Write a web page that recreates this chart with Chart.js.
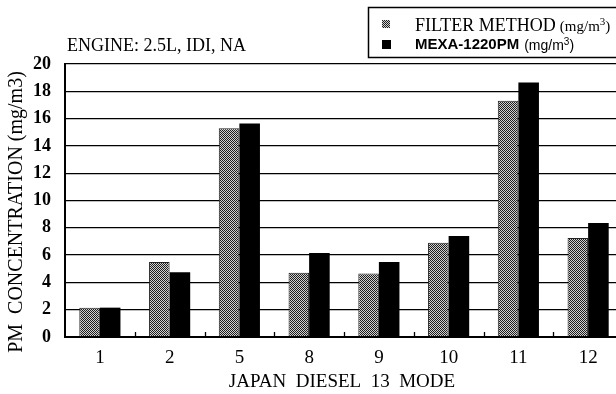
<!DOCTYPE html>
<html>
<head>
<meta charset="utf-8">
<script src="https://cdn.jsdelivr.net/npm/chart.js@4/dist/chart.umd.min.js"></script>
<style>
  html, body { margin: 0; padding: 0; background: #fff; width: 616px; height: 394px; overflow: hidden; }
  #wrap { position: relative; width: 640px; height: 394px; }
</style>
</head>
<body>
<div id="wrap"><canvas id="c" width="640" height="394"></canvas></div>
<script>
// Japan diesel 13-mode test points and measured PM concentration (mg/m3)
const modes = ['1', '2', '5', '8', '9', '10', '11', '12'];
const filterMethod = [2.15, 5.5, 15.3, 4.7, 4.65, 6.9, 17.3, 7.25];
const mexa1220pm = [2.15, 4.75, 15.65, 6.15, 5.5, 7.4, 18.65, 8.35];
const yTicks = [0, 2, 4, 6, 8, 10, 12, 14, 16, 18, 20];

const seriesNames = ['FILTER METHOD', 'MEXA-1220PM'];
const unitMain = '(mg/m';
const unitSup = '3';
const unitClose = ')';
const engineNote = 'ENGINE: 2.5L, IDI, NA';
const xTitle = 'JAPAN  DIESEL  13  MODE';
const yTitle = 'PM  CONCENTRATION (mg/m3)';

const SERIF = "'Liberation Serif', 'Times New Roman', serif";
const SANS = "'Liberation Sans', Arial, sans-serif";

// stippled grey fill used for the filter-method bars
function makeStipple() {
  const p = document.createElement('canvas');
  p.width = 2; p.height = 2;
  const g = p.getContext('2d');
  g.fillStyle = '#d0d0d0'; g.fillRect(0, 0, 2, 2);
  g.fillStyle = '#1e1e1e'; g.fillRect(0, 0, 1, 1); g.fillRect(1, 1, 1, 1);
  return g.createPattern(p, 'repeat');
}
const stipple = makeStipple();

function drawUnit(ctx, x, y, size, family) {
  ctx.font = `${size}px ${family}`;
  ctx.fillText(unitMain, x, y);
  let w = ctx.measureText(unitMain).width;
  const s = Math.round(size * 0.7);
  ctx.font = `${s}px ${family}`;
  ctx.fillText(unitSup, x + w, y - size * 0.3);
  w += ctx.measureText(unitSup).width;
  ctx.font = `${size}px ${family}`;
  ctx.fillText(unitClose, x + w, y);
}

const annotations = {
  id: 'annotations',
  afterDraw(chart) {
    const ctx = chart.ctx;
    const xs = chart.scales.x;
    const area = chart.chartArea;
    ctx.save();
    ctx.fillStyle = '#000';
    ctx.strokeStyle = '#000';

    // short marks at the category boundaries along the base line
    ctx.lineWidth = 1.3;
    for (let i = 1; i < modes.length; i++) {
      const bx = Math.round((xs.getPixelForValue(i - 1) + xs.getPixelForValue(i)) / 2) + 0.5;
      ctx.beginPath();
      ctx.moveTo(bx, area.bottom);
      ctx.lineTo(bx, area.bottom - 5);
      ctx.stroke();
    }

    // engine note
    ctx.textBaseline = 'middle';
    ctx.textAlign = 'left';
    ctx.font = `18px ${SERIF}`;
    ctx.fillText(engineNote, 67, 46);

    // x axis title
    ctx.textAlign = 'center';
    ctx.font = `19px ${SERIF}`;
    ctx.fillText(xTitle, 342, 382);

    // y axis title
    ctx.save();
    ctx.translate(17, 212);
    ctx.rotate(-Math.PI / 2);
    ctx.font = `20px ${SERIF}`;
    ctx.fillText(yTitle, 0, 0);
    ctx.restore();

    // legend box
    ctx.lineWidth = 1.5;
    ctx.strokeRect(368.5, 7.5, 300, 50);
    const ds = chart.data.datasets;
    ctx.fillStyle = ds[0].backgroundColor;
    ctx.fillRect(382, 20, 8, 8);
    ctx.fillStyle = '#000';
    ctx.fillRect(382, 40, 9, 9);

    ctx.textAlign = 'left';
    ctx.font = `18px ${SERIF}`;
    ctx.fillText(ds[0].label, 415, 26);
    const w1 = ctx.measureText(ds[0].label).width;
    drawUnit(ctx, 415 + w1 + 4, 27, 15, SERIF);

    ctx.font = `bold 15px ${SANS}`;
    ctx.fillText(ds[1].label, 415, 45);
    const w2 = ctx.measureText(ds[1].label).width;
    drawUnit(ctx, 415 + w2 + 5, 46, 14, SANS);

    ctx.restore();
  }
};

new Chart(document.getElementById('c'), {
  type: 'bar',
  data: {
    labels: modes,
    datasets: [
      {
        label: seriesNames[0],
        data: filterMethod,
        backgroundColor: stipple,
        borderColor: '#222',
        borderWidth: 1,
        categoryPercentage: 0.59,
        barPercentage: 1.0
      },
      {
        label: seriesNames[1],
        data: mexa1220pm,
        backgroundColor: '#000',
        borderColor: '#000',
        borderWidth: 0,
        categoryPercentage: 0.59,
        barPercentage: 1.0
      }
    ]
  },
  options: {
    responsive: false,
    animation: false,
    layout: { padding: { top: 64, right: 17, left: 0, bottom: 0 } },
    plugins: { legend: { display: false }, tooltip: { enabled: false } },
    scales: {
      x: {
        grid: { display: false, drawTicks: false },
        border: { display: true, color: '#000', width: 2 },
        ticks: {
          color: '#000',
          font: { family: SERIF, size: 19 },
          padding: 10,
          maxRotation: 0,
          autoSkip: false
        },
        afterFit(s) { s.height = 57; }
      },
      y: {
        min: 0,
        max: 20,
        afterBuildTicks(s) { s.ticks = yTicks.map(v => ({ value: v })); },
        grid: { color: '#000', lineWidth: 1.3, drawTicks: false },
        border: { display: true, color: '#000', width: 2 },
        ticks: {
          color: '#000',
          font: { family: SERIF, size: 18, weight: 'bold' },
          padding: 14
        },
        afterFit(s) { s.width = 65; }
      }
    }
  },
  plugins: [annotations]
});
</script>
</body>
</html>
